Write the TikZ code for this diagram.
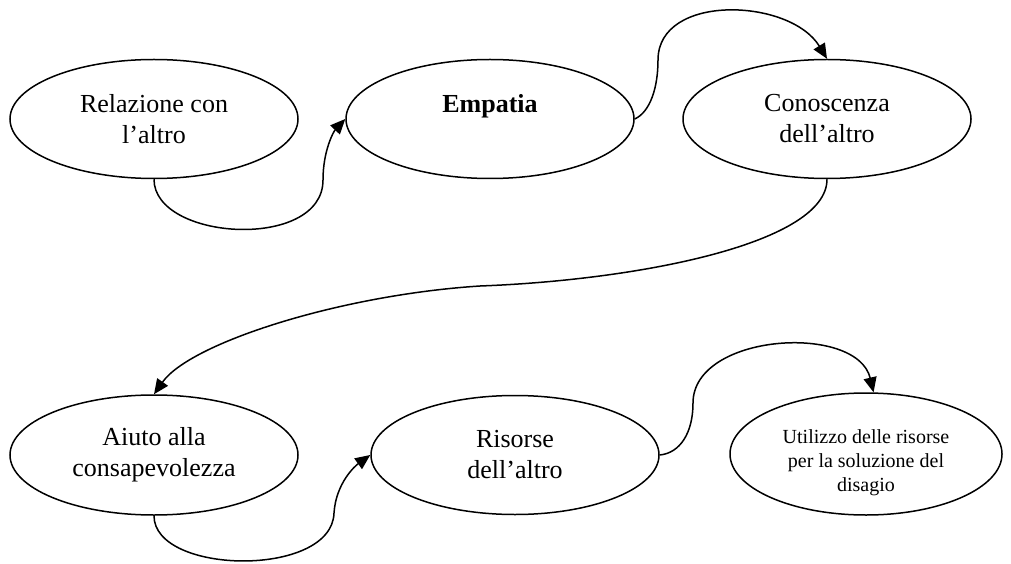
\documentclass[tikz,border=0pt]{standalone}
\usepackage{fontspec}
\setmainfont{Liberation Serif}
\usetikzlibrary{shapes.geometric,arrows.meta}

\begin{document}
\begin{tikzpicture}[x=0.5pt,y=0.5pt,
  bubble/.style={ellipse,draw,line width=0.75pt,inner sep=0pt,align=center,
    minimum width=144pt,minimum height=59.5pt,font=\fontsize{13}{15.5}\selectfont},
  link/.style={line width=0.75pt,-{Triangle[length=7.5pt,width=6.5pt]}}]
\useasboundingbox (0,0) rectangle (1011,563);
\node[bubble] (rel) at (154,444) {Relazione con\\l’altro};
\node[bubble] (emp) at (490,444) {\textbf{Empatia}\\\mbox{}};
\node[bubble] (con) at (827,444) {Conoscenza\\dell’altro};
\node[bubble,minimum height=60pt] (aiu) at (154,108) {Aiuto alla\\consapevolezza};
\node[bubble] (ris) at (515,108) {Risorse\\dell’altro};
\node[bubble,minimum width=136pt,minimum height=61pt,font=\fontsize{10}{12}\selectfont] (uti) at (866,109)
  {\raisebox{-4.5pt}[\height][\depth]{\begin{tabular}{@{}c@{}}Utilizzo delle risorse\\per la soluzione del\\disagio\end{tabular}}};
\coordinate (k1) at (323,383);
\coordinate (k2) at (658,503);
\coordinate (k3) at (480,277);
\coordinate (k4) at (334,50);
\coordinate (k5) at (693,160);
\draw[link] (rel.south) .. controls (154,322) and (323,312) .. (k1) .. controls (323,413) and (334,432) .. (emp.west);
\draw[link] (emp.east) .. controls (650,451) and (658,475) .. (k2) .. controls (658,570) and (790,565) .. (con.north);
\draw[link] (con.south) .. controls (827,320) and (640,283) .. (k3) .. controls (340,268) and (190,220) .. (aiu.north);
\draw[link] (aiu.south) .. controls (154,-12) and (332,-15) .. (k4) .. controls (336,80) and (355,97) .. (ris.west);
\draw[link] (ris.east) .. controls (680,110) and (693,130) .. (k5) .. controls (693,230) and (857,240) .. (uti.83);
\end{tikzpicture}
\end{document}
